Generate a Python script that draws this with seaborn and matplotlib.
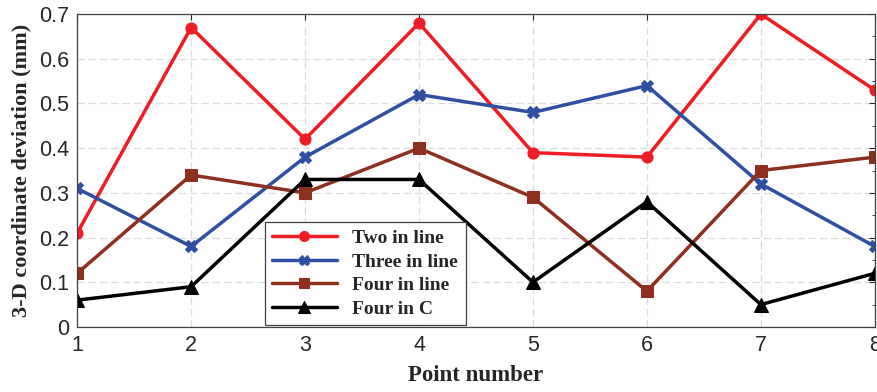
import numpy as np
import pandas as pd
import matplotlib.pyplot as plt
import seaborn as sns
from matplotlib.ticker import MultipleLocator

# values
points = [1, 2, 3, 4, 5, 6, 7, 8]
two_in_line = [0.21, 0.67, 0.42, 0.68, 0.39, 0.38, 0.70, 0.53]
three_in_line = [0.31, 0.18, 0.38, 0.52, 0.48, 0.54, 0.32, 0.18]
four_in_line = [0.12, 0.34, 0.30, 0.40, 0.29, 0.08, 0.35, 0.38]
four_in_c = [0.06, 0.09, 0.33, 0.33, 0.10, 0.28, 0.05, 0.12]
series_names = ['Two in line', 'Three in line', 'Four in line', 'Four in C']

sns.set_style('white')

df = pd.DataFrame({
    'Point': points * 4,
    'Deviation': two_in_line + three_in_line + four_in_line + four_in_c,
    'Layout': np.repeat(series_names, len(points)),
})

styles = {
    'Two in line': ('#ee1c25', 'o', 8),
    'Three in line': ('#2f4fa2', 'X', 8),
    'Four in line': ('#8e2f1f', 's', 8),
    'Four in C': ('#000000', '^', 10),
}

fig = plt.figure(figsize=(8.77, 3.92), dpi=100)
ax = fig.add_axes([0.088, 0.166, 0.9095, 0.798])

for name in series_names:
    color, marker, ms = styles[name]
    sns.lineplot(data=df[df['Layout'] == name], x='Point', y='Deviation',
                 color=color, marker=marker, markersize=ms, linewidth=2.5,
                 markeredgecolor=color, label=name, ax=ax)

ax.set_xlim(1, 8)
ax.set_ylim(0, 0.7)
ax.xaxis.set_major_locator(MultipleLocator(1))
ax.yaxis.set_minor_locator(MultipleLocator(0.05))
ax.set_yticks([0, 0.1, 0.2, 0.3, 0.4, 0.5, 0.6, 0.7])
ax.set_yticklabels(['0', '0.1', '0.2', '0.3', '0.4', '0.5', '0.6', '0.7'])
ax.tick_params(which='both', direction='in', top=True, right=True,
               labelsize=15.5, pad=6)
ax.tick_params(which='major', length=4)
ax.tick_params(which='minor', length=2)
for lab in ax.get_xticklabels() + ax.get_yticklabels():
    lab.set_fontfamily('Liberation Sans')
ax.grid(True, which='major', color='#dcdcdc', linestyle=(0, (6, 3)), linewidth=0.9)
for sp in ax.spines.values():
    sp.set_color('#404040')
    sp.set_linewidth(0.9)

ax.set_xlabel('Point number', fontfamily='Liberation Serif', fontweight='bold',
              fontsize=16.5, labelpad=6)
ax.set_ylabel('3-D coordinate deviation (mm)', fontfamily='Liberation Serif',
              fontweight='bold', fontsize=16, labelpad=5)

leg = ax.legend(loc='lower left', bbox_to_anchor=(0.235, 0.005), borderaxespad=0,
                fancybox=False, framealpha=1, edgecolor='#404040', borderpad=0.4,
                labelspacing=0.3, handlelength=3.3, markerscale=0.9,
                prop={'family': 'Liberation Serif', 'weight': 'bold', 'size': 14})
leg.get_frame().set_linewidth(0.9)

fig.savefig('out.png', dpi=100)
